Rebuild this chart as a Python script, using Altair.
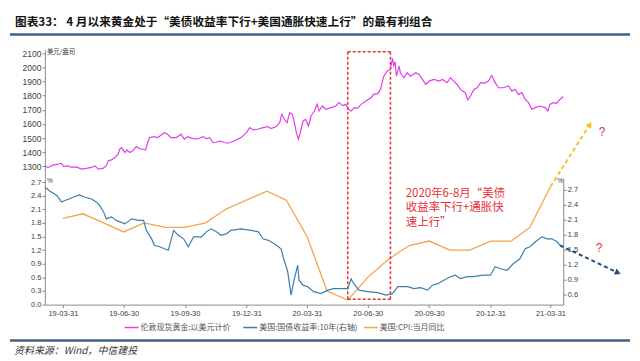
import altair as alt
import pandas as pd

# ---------------- data ----------------
gold_dates = [
    "2019-03-04", "2019-03-09", "2019-03-16", "2019-03-24", "2019-03-28", "2019-04-01", "2019-04-08",
    "2019-04-13", "2019-04-20", "2019-04-28", "2019-05-05", "2019-05-13", "2019-05-18", "2019-05-23",
    "2019-05-30", "2019-06-04", "2019-06-07", "2019-06-12", "2019-06-17", "2019-06-22", "2019-06-24",
    "2019-06-27", "2019-07-02", "2019-07-05", "2019-07-09", "2019-07-14", "2019-07-19", "2019-07-24",
    "2019-07-29", "2019-08-02", "2019-08-05", "2019-08-08", "2019-08-15", "2019-08-20", "2019-08-25",
    "2019-08-30", "2019-09-04", "2019-09-09", "2019-09-17", "2019-09-24", "2019-09-29", "2019-10-04",
    "2019-10-12", "2019-10-19", "2019-10-27", "2019-11-01", "2019-11-06", "2019-11-11", "2019-11-16",
    "2019-11-21", "2019-11-28", "2019-12-03", "2019-12-13", "2019-12-23", "2019-12-31", "2020-01-05",
    "2020-01-10", "2020-01-17", "2020-01-25", "2020-02-01", "2020-02-06", "2020-02-14", "2020-02-19",
    "2020-02-22", "2020-02-26", "2020-03-01", "2020-03-05", "2020-03-09", "2020-03-12", "2020-03-15",
    "2020-03-18", "2020-03-21", "2020-03-25", "2020-03-29", "2020-04-02", "2020-04-06", "2020-04-11",
    "2020-04-15", "2020-04-18", "2020-04-23", "2020-04-28", "2020-05-06", "2020-05-13", "2020-05-18",
    "2020-05-23", "2020-05-28", "2020-06-01", "2020-06-05", "2020-06-10", "2020-06-15", "2020-06-20",
    "2020-06-27", "2020-07-05", "2020-07-09", "2020-07-15", "2020-07-19", "2020-07-24", "2020-07-29",
    "2020-08-03", "2020-08-06", "2020-08-08", "2020-08-10", "2020-08-12", "2020-08-16", "2020-08-18",
    "2020-08-23", "2020-08-28", "2020-09-02", "2020-09-10", "2020-09-15", "2020-09-20", "2020-09-25",
    "2020-09-30", "2020-10-07", "2020-10-15", "2020-10-20", "2020-10-27", "2020-11-01", "2020-11-06",
    "2020-11-11", "2020-11-16", "2020-11-23", "2020-11-27", "2020-12-01", "2020-12-06", "2020-12-11",
    "2020-12-16", "2020-12-21", "2020-12-28", "2021-01-02", "2021-01-07", "2021-01-12", "2021-01-19",
    "2021-01-27", "2021-02-01", "2021-02-06", "2021-02-11", "2021-02-16", "2021-02-21", "2021-02-26",
    "2021-03-03", "2021-03-08", "2021-03-15", "2021-03-23", "2021-03-27", "2021-03-30", "2021-04-04",
    "2021-04-09", "2021-04-14", "2021-04-19",
]
gold_values = [
    1300, 1291, 1307, 1314, 1321, 1298, 1302,
    1291, 1295, 1279, 1284, 1291, 1302, 1279,
    1284, 1302, 1338, 1345, 1361, 1385, 1420,
    1432, 1397, 1415, 1397, 1409, 1439, 1425,
    1420, 1415, 1468, 1503, 1510, 1503, 1520,
    1538, 1527, 1503, 1503, 1527, 1491, 1510,
    1496, 1493, 1510, 1496, 1503, 1468, 1470,
    1479, 1468, 1463, 1479, 1503, 1538, 1574,
    1557, 1562, 1574, 1581, 1567, 1581, 1609,
    1668, 1633, 1609, 1680, 1668, 1609, 1538,
    1491, 1538, 1621, 1633, 1585, 1656, 1692,
    1739, 1692, 1727, 1704, 1716, 1727, 1751,
    1730, 1739, 1704, 1692, 1716, 1712, 1739,
    1762, 1786, 1810, 1815, 1845, 1939, 1975,
    1987, 2065, 2015, 2040, 1939, 2010, 1963,
    1928, 1963, 1939, 1963, 1951, 1916, 1880,
    1904, 1916, 1904, 1916, 1893, 1928, 1904,
    1880, 1845, 1822, 1770, 1798, 1845, 1857,
    1893, 1888, 1904, 1944, 1893, 1857, 1857,
    1869, 1833, 1845, 1810, 1822, 1774, 1751,
    1704, 1716, 1727, 1716, 1692, 1739, 1751,
    1746, 1774, 1793,
]

yield_dates = [
    "2019-03-04", "2019-03-10", "2019-03-22", "2019-03-29", "2019-04-03", "2019-04-09", "2019-04-16",
    "2019-04-25", "2019-05-02", "2019-05-13", "2019-05-20", "2019-05-25", "2019-05-31", "2019-06-04",
    "2019-06-12", "2019-06-19", "2019-07-02", "2019-07-12", "2019-07-22", "2019-07-30", "2019-08-03",
    "2019-08-11", "2019-08-15", "2019-08-23", "2019-08-30", "2019-09-05", "2019-09-13", "2019-09-20",
    "2019-09-28", "2019-10-05", "2019-10-13", "2019-10-25", "2019-11-01", "2019-11-08", "2019-11-16",
    "2019-11-23", "2019-12-01", "2019-12-08", "2019-12-23", "2020-01-07", "2020-01-18", "2020-01-25",
    "2020-02-02", "2020-02-11", "2020-02-21", "2020-02-25", "2020-03-02", "2020-03-07", "2020-03-11",
    "2020-03-17", "2020-03-19", "2020-03-25", "2020-04-01", "2020-04-10", "2020-04-21", "2020-05-01",
    "2020-05-10", "2020-05-21", "2020-05-31", "2020-06-05", "2020-06-09", "2020-06-17", "2020-06-30",
    "2020-07-15", "2020-07-27", "2020-08-06", "2020-08-14", "2020-08-29", "2020-09-07", "2020-09-17",
    "2020-09-28", "2020-10-05", "2020-10-13", "2020-10-22", "2020-11-01", "2020-11-08", "2020-11-16",
    "2020-11-26", "2020-12-05", "2020-12-20", "2020-12-31", "2021-01-07", "2021-01-15", "2021-01-25",
    "2021-02-03", "2021-02-13", "2021-02-21", "2021-02-28", "2021-03-11", "2021-03-18", "2021-03-26",
    "2021-04-02", "2021-04-10", "2021-04-14",
]
yield_values = [
    2.76, 2.69, 2.59, 2.46, 2.49, 2.52, 2.56,
    2.60, 2.56, 2.52, 2.46, 2.39, 2.26, 2.12,
    2.16, 2.09, 2.02, 2.12, 2.09, 2.09, 1.89,
    1.72, 1.59, 1.56, 1.52, 1.49, 1.89, 1.79,
    1.72, 1.56, 1.76, 1.76, 1.86, 1.92, 1.86,
    1.79, 1.82, 1.89, 1.92, 1.89, 1.86, 1.72,
    1.69, 1.62, 1.52, 1.32, 1.06, 0.59, 0.86,
    1.19, 0.89, 0.79, 0.76, 0.66, 0.62, 0.69,
    0.72, 0.72, 0.72, 0.92, 0.82, 0.69, 0.66,
    0.64, 0.59, 0.62, 0.76, 0.76, 0.72, 0.74,
    0.69, 0.79, 0.82, 0.89, 0.96, 0.99, 0.92,
    0.96, 0.96, 0.99, 0.99, 1.16, 1.12, 1.09,
    1.22, 1.32, 1.52, 1.56, 1.69, 1.76, 1.72,
    1.72, 1.66, 1.59,
]

cpi_dates = [
    "2019-03-31", "2019-04-30", "2019-05-31", "2019-06-30", "2019-07-31", "2019-08-31", "2019-09-30",
    "2019-10-31", "2019-11-30", "2019-12-31", "2020-01-31", "2020-02-29", "2020-03-31", "2020-04-30",
    "2020-05-31", "2020-06-30", "2020-07-31", "2020-08-31", "2020-09-30", "2020-10-31", "2020-11-30",
    "2020-12-31", "2021-01-31", "2021-02-28", "2021-03-31",
]
cpi_values = [
    1.9, 2.0, 1.8, 1.6, 1.8, 1.7, 1.7,
    1.8, 2.1, 2.3, 2.5, 2.3, 1.5, 0.3,
    0.1, 0.6, 1.0, 1.3, 1.4, 1.2, 1.2,
    1.4, 1.4, 1.7, 2.6,
]

# tick labels
x_tick_dates = [(2019, 3, 31), (2019, 6, 30), (2019, 9, 30), (2019, 12, 31), (2020, 3, 31),
                (2020, 6, 30), (2020, 9, 30), (2020, 12, 31), (2021, 3, 31)]
gold_ticks = [1300, 1400, 1500, 1600, 1700, 1800, 1900, 2000, 2100]
left_ticks = [0.0, 0.3, 0.6, 0.9, 1.2, 1.5, 1.8, 2.1, 2.4, 2.7]
right_ticks = [0.6, 0.9, 1.2, 1.5, 1.8, 2.1, 2.4, 2.7]

# annotation data (highlighted period and projection arrows)
box_dates = ["2020-05-31", "2020-08-03"]
box_gold_top = 2112
box_cpi_bottom = 0.12
cpi_arrow_dates = ["2021-03-31", "2021-05-29"]
cpi_arrow_values = [2.6, 3.97]
yield_arrow_dates = ["2021-04-14", "2021-07-10"]
yield_arrow_values = [1.59, 1.04]

title_text = "图表33： 4 月以来黄金处于“美债收益率下行+美国通胀快速上行”的最有利组合"
annot_text = "2020年6-8月“美债\n收益率下行+通胀快\n速上行”"
legend_labels = ["伦敦现货黄金:以美元计价", "美国:国债收益率:10年(右轴)", "美国:CPI:当月同比"]
source_text = "资料来源：Wind，中信建投"

# ---------------- styling ----------------
CJK = "Noto Sans CJK SC"
NUM = "Liberation Sans"
C_GOLD = "#e040e6"
C_YIELD = "#3b7fab"
C_CPI = "#f2a54c"
C_RED = "#e3323a"
C_YEL = "#f6c12a"
C_NAVY = "#1f4e79"
C_AX = "#8c8c8c"
C_LAB = "#404040"
C_RULE = "#3e6383"

W = 520
H_TOP = 129
H_BOT = 127

x_scale = alt.Scale(type="utc", domain=[alt.DateTime(year=2019, month=3, date=4, utc=True),
                                        alt.DateTime(year=2021, month=4, date=19, utc=True)])
x_axis = alt.Axis(values=[alt.DateTime(year=y, month=m, date=d, utc=True) for (y, m, d) in x_tick_dates],
                  labelExpr="utcFormat(datum.value, '%y-%m-%d')", title=None, grid=False,
                  labelFont=NUM, labelFontSize=7.5, labelColor=C_LAB, labelPadding=2,
                  tickSize=3, tickColor=C_AX, domainColor=C_AX, labelOverlap=False)


def axis_y(values, fmt, size, orient="left"):
    return alt.Axis(values=values, format=fmt, title=None, grid=False, orient=orient,
                    labelFont=NUM, labelFontSize=size, labelColor=C_LAB, labelPadding=1,
                    tickSize=3, tickColor=C_AX, domainColor=C_AX, labelOverlap=False)


gold_axis = axis_y(gold_ticks, "d", 8.5)
left_axis = axis_y(left_ticks, ".1f", 7.5)
right_axis = axis_y(right_ticks, ".1f", 7.5, "right")

gold_scale = alt.Scale(domain=[1216, 2129], nice=False, zero=False)
left_scale = alt.Scale(domain=[0, 2.788], nice=False, zero=False)
right_scale = alt.Scale(domain=[0.4, 2.94], nice=False, zero=False)

one = pd.DataFrame({"a": [0]})


def xt(field):  # top panel x (no axis anywhere in the top panel)
    return alt.X(field, scale=x_scale, axis=None)


def xb(field):  # bottom panel x, identical axis in every layer
    return alt.X(field, scale=x_scale, axis=x_axis)


def yg(field):
    return alt.Y(field, scale=gold_scale, axis=gold_axis)


def yl(field):
    return alt.Y(field, scale=left_scale, axis=left_axis)


def yr(field):
    return alt.Y(field, scale=right_scale, axis=right_axis)


# ---------------- top panel ----------------
gold_df = pd.DataFrame({"date": gold_dates, "value": gold_values})
gold_line = alt.Chart(gold_df).mark_line(color=C_GOLD, strokeWidth=1.2).encode(
    x=xt("date:T"), y=yg("value:Q"))

box_top_v = alt.Chart(pd.DataFrame({"date": box_dates, "y1": [box_gold_top] * 2, "y2": [1216] * 2})).mark_rule(
    color=C_RED, strokeDash=[3, 2], strokeWidth=1.5).encode(
    x=xt("date:T"), y=yg("y1:Q"), y2="y2:Q")
box_top_h = alt.Chart(pd.DataFrame({"d1": [box_dates[0]], "d2": [box_dates[1]], "y": [box_gold_top]})).mark_rule(
    color=C_RED, strokeDash=[3, 2], strokeWidth=1.5).encode(
    x=xt("d1:T"), x2="d2:T", y=yg("y:Q"))

unit_text = alt.Chart(one).mark_text(text="美元/盎司", align="left", baseline="middle", font=CJK,
                                     fontSize=6.5, color=C_LAB).encode(x=alt.value(2), y=alt.value(3))
title_mark = alt.Chart(one).mark_text(text=title_text, align="left", baseline="middle", font=CJK,
                                      fontSize=11.7, fontWeight="bold", color="#111111").encode(
    x=alt.value(-30), y=alt.value(-28))
header_rule = alt.Chart(one).mark_rule(color=C_RULE, strokeWidth=2.5).encode(
    x=alt.value(-35), x2=alt.value(587), y=alt.value(-15))

top = alt.layer(gold_line, box_top_v, box_top_h, unit_text, title_mark, header_rule).properties(
    width=W, height=H_TOP)

# ---------------- bottom panel ----------------
cpi_df = pd.DataFrame({"date": cpi_dates, "value": cpi_values})
cpi_line = alt.Chart(cpi_df).mark_line(color=C_CPI, strokeWidth=1.3).encode(x=xb("date:T"), y=yl("value:Q"))

box_bot_v = alt.Chart(pd.DataFrame({"date": box_dates, "y1": [box_cpi_bottom] * 2, "y2": [2.788] * 2})).mark_rule(
    color=C_RED, strokeDash=[3, 2], strokeWidth=1.5).encode(x=xb("date:T"), y=yl("y1:Q"), y2="y2:Q")
box_bot_h = alt.Chart(pd.DataFrame({"d1": [box_dates[0]], "d2": [box_dates[1]], "y": [box_cpi_bottom]})).mark_rule(
    color=C_RED, strokeDash=[3, 2], strokeWidth=1.5).encode(x=xb("d1:T"), x2="d2:T", y=yl("y:Q"))

cpi_arrow_df = pd.DataFrame({"date": cpi_arrow_dates, "value": cpi_arrow_values})
cpi_arrow = alt.Chart(cpi_arrow_df).mark_line(color=C_YEL, strokeDash=[4, 3], strokeWidth=2, clip=False).encode(
    x=xb("date:T"), y=yl("value:Q"))
cpi_head = alt.Chart(cpi_arrow_df.tail(1)).mark_point(shape="triangle-up", filled=True, size=45, angle=32,
                                                      color=C_YEL, opacity=1, clip=False).encode(
    x=xb("date:T"), y=yl("value:Q"))

annot = alt.Chart(one).mark_text(text=annot_text, lineBreak="\n", lineHeight=14.5, align="left", baseline="top",
                                 font=CJK, fontSize=11.5, color=C_RED).encode(x=alt.value(362), y=alt.value(10))
q1 = alt.Chart(one).mark_text(text="?", font=NUM, fontSize=12, color=C_RED, baseline="middle").encode(
    x=alt.value(559), y=alt.value(-46))
q2 = alt.Chart(one).mark_text(text="?", font=NUM, fontSize=12, color=C_RED, baseline="middle").encode(
    x=alt.value(556), y=alt.value(70))
pct_l = alt.Chart(one).mark_text(text="%", align="left", baseline="middle", font=NUM, fontSize=6.5,
                                 color=C_LAB).encode(x=alt.value(2), y=alt.value(3))

legend_parts = []
for (x0, col, lab) in [(80, C_GOLD, legend_labels[0]), (199, C_YIELD, legend_labels[1]), (320, C_CPI, legend_labels[2])]:
    legend_parts.append(alt.Chart(one).mark_rule(color=col, strokeWidth=1.5).encode(
        x=alt.value(x0), x2=alt.value(x0 + 14), y=alt.value(150)))
    legend_parts.append(alt.Chart(one).mark_text(text=lab, align="left", baseline="middle", font=CJK,
                                                 fontSize=8, color="#555555").encode(
        x=alt.value(x0 + 16), y=alt.value(150)))

footer_rule = alt.Chart(one).mark_rule(color=C_RULE, strokeWidth=2.5).encode(
    x=alt.value(-35), x2=alt.value(587), y=alt.value(163))
source = alt.Chart(one).mark_text(text=source_text, align="left", baseline="middle", font=CJK, fontSize=10,
                                  fontStyle="italic", color="#333333").encode(x=alt.value(-31), y=alt.value(174))

left_group = alt.layer(cpi_line, box_bot_v, box_bot_h, cpi_arrow, cpi_head, annot, q1, q2, pct_l,
                       *legend_parts, footer_rule, source)

yield_df = pd.DataFrame({"date": yield_dates, "value": yield_values})
yield_line = alt.Chart(yield_df).mark_line(color=C_YIELD, strokeWidth=1.2).encode(x=xb("date:T"), y=yr("value:Q"))
y_arrow_df = pd.DataFrame({"date": yield_arrow_dates, "value": yield_arrow_values})
yield_arrow = alt.Chart(y_arrow_df).mark_line(color=C_NAVY, strokeDash=[4, 3], strokeWidth=2, clip=False).encode(
    x=xb("date:T"), y=yr("value:Q"))
yield_head = alt.Chart(y_arrow_df.tail(1)).mark_point(shape="triangle-up", filled=True, size=45, angle=115,
                                                      color=C_NAVY, opacity=1, clip=False).encode(
    x=xb("date:T"), y=yr("value:Q"))
pct_r = alt.Chart(one).mark_text(text="%", align="left", baseline="middle", font=NUM, fontSize=6.5,
                                 color=C_LAB).encode(x=alt.value(514), y=alt.value(3))

right_group = alt.layer(yield_line, yield_arrow, yield_head, pct_r)

bottom = alt.layer(left_group, right_group).resolve_scale(y="independent").properties(width=W, height=H_BOT)

chart = alt.vconcat(top, bottom, spacing=0, bounds="flush").properties(
    padding={"left": 0, "top": 8, "right": 0, "bottom": 0}, background="white"
).configure_view(stroke=None)

chart.save("out.html", embed_options={"renderer": "svg", "actions": False})
